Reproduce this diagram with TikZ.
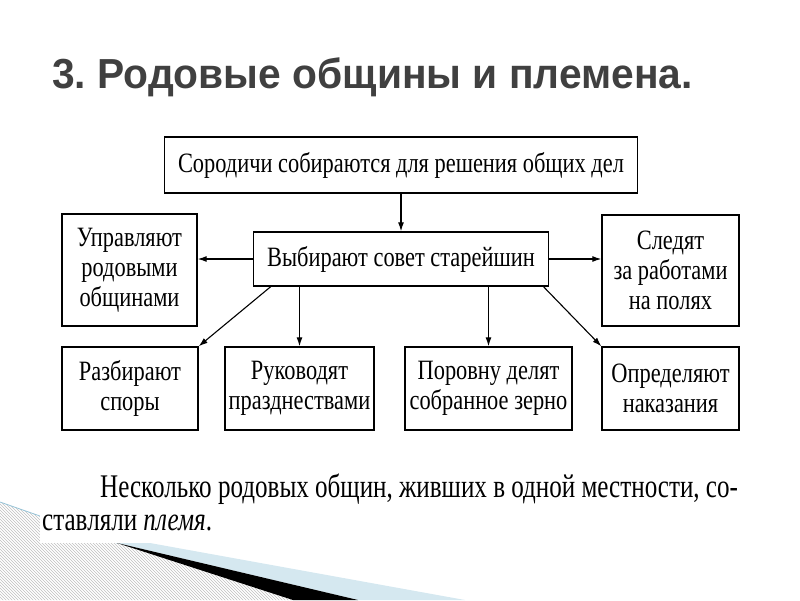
\documentclass[tikz,border=0pt]{standalone}
\usepackage{fontspec}
\setmainfont{Liberation Serif}
\newfontfamily\titlefont{Liberation Sans}[FakeStretch=0.97]
\newfontfamily\schemefont{Liberation Serif}[FakeStretch=0.8]
\newfontfamily\notefont{Liberation Serif}[FakeStretch=0.76]
\usetikzlibrary{arrows.meta,patterns}
\definecolor{titlegray}{RGB}{64,64,64}
\definecolor{wispblue}{RGB}{213,232,240}
\definecolor{wispline}{RGB}{150,195,215}
\frenchspacing

\begin{document}
\begin{tikzpicture}[x=1pt, y=-1pt, >={Latex[length=9pt,width=6pt]},
		box/.style={draw, line width=1.4pt, inner sep=0pt, align=center,
			font=\schemefont\fontsize{28}{30}\selectfont},
		note/.style={anchor=base west, inner sep=0pt, font=\notefont\fontsize{33}{36}\selectfont},
		link/.style={->, line width=1.1pt}]
	\useasboundingbox (0,0) rectangle (800,600);
	% wisp in the corner
	\fill[pattern=north west lines, pattern color=gray!50] (0,502) -- (117,543) -- (293,600) -- (0,600) -- cycle;
	\draw[wispline, line width=0.8pt] (0,502) -- (117,543);
	\fill[wispblue] (117,543) -- (150,543) -- (465,600) -- (358,600) -- cycle;
	\fill[black] (117,543) -- (358,600) -- (293,600) -- cycle;
	\fill[white] (40,470) rectangle (800,543);

	\node[anchor=base west, inner sep=0pt, text=titlegray,
		font=\titlefont\bfseries\fontsize{42}{46}\selectfont] (title) at (52,88) {3. Родовые общины и племена.};

	\node[box, minimum width=473, minimum height=56] (meet) at (401,165) {Сородичи собираются для решения общих дел};
	\node[box, minimum width=295, minimum height=54] (council) at (401,259) {Выбирают совет старейшин};
	\node[box, minimum width=135, minimum height=112] (rule) at (129.5,270) {Управляют\\родовыми\\общинами};
	\node[box, minimum width=137, minimum height=111] (fields) at (670.5,270.5) {Следят\\за работами\\на полях};

	\node[box, minimum width=136, minimum height=83] (disputes) at (130,388.5) {Разбирают\\споры};
	\node[box, minimum width=149, minimum height=83] (feasts) at (299.5,388.5) {Руководят\\празднествами};
	\node[box, minimum width=167, minimum height=83] (grain) at (488.5,388.5) {Поровну делят\\собранное зерно};
	\node[box, minimum width=137, minimum height=83] (punish) at (670.5,388.5) {Определяют\\наказания};

	\draw[link] (meet.south) -- (council.north);
	\draw[link] (council.west) -- (council.west -| rule.east);
	\draw[link] (council.east) -- (council.east -| fields.west);
	\draw[link] (council.192) -- (disputes.north east);
	\draw[link] (council.south -| feasts.north) -- (feasts.north);
	\draw[link] (council.south -| grain.north) -- (grain.north);
	\draw[link] (council.-11) -- (punish.north west);

	\node[note] (note1) at (100,497) {Несколько родовых общин, живших в одной местности, со-};
	\node[note] (note2) at (42,530) {ставляли \textit{племя}.};
\end{tikzpicture}
\end{document}
